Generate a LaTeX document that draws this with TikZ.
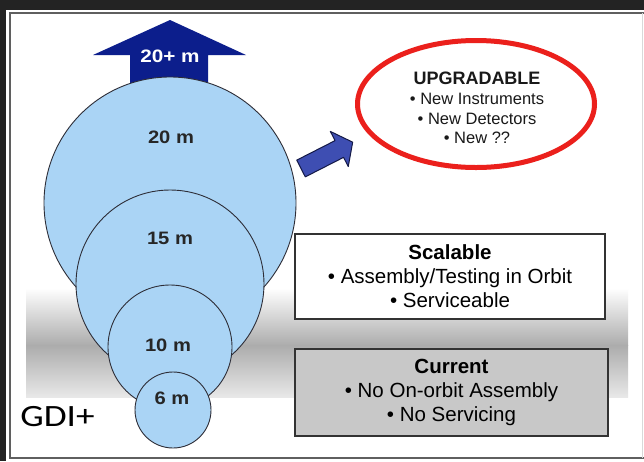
\documentclass[tikz,border=0pt]{standalone}
\usepackage{fontspec}
\setmainfont{Liberation Sans}
\newfontfamily\gdifont{Carlito}
\usepackage{graphicx}
\usetikzlibrary{shapes.geometric}

\definecolor{frameDark}{RGB}{35,35,35}
\definecolor{frameLine}{RGB}{95,95,95}
\definecolor{navy}{RGB}{12,30,140}
\definecolor{skyfill}{RGB}{170,212,245}
\definecolor{rimline}{RGB}{45,45,55}
\definecolor{ringred}{RGB}{235,32,28}
\definecolor{arrowblue}{RGB}{62,78,178}
\definecolor{arrowedge}{RGB}{20,25,70}
\definecolor{boxgray}{RGB}{200,200,200}
\definecolor{bandgray}{RGB}{172,172,172}
\definecolor{bandlow}{RGB}{232,232,232}

% horizontally widened text
\newcommand{\widen}[2][1.15]{\scalebox{#1}[1]{#2}}

\begin{document}
\begin{tikzpicture}[x=1pt,y=-1pt,
  disc/.style={circle, draw=rimline, line width=0.9pt, fill=skyfill,
    inner sep=0pt, minimum size=#1},
  disclabel/.style={font=\fontsize{18}{20}\selectfont\bfseries,
    text=black!85, inner sep=0pt},
  infobox/.style={draw=black!80, line width=1.3pt, align=center,
    inner sep=0pt, font=\fontsize{20.5}{24}\selectfont},
  bodytext/.style={align=center, inner sep=0pt, text=black!90},
]
% page and frame
\useasboundingbox (0,0) rectangle (644,461);
\fill[frameDark] (0,0) rectangle (644,461);
\fill[white] (6,10) rectangle (644,461);
\draw[frameLine, line width=2pt] (644,13) -- (9.5,13) -- (9.5,457.5) -- (644,457.5);
\draw[black!15, line width=1pt] (642,13) -- (642,457.5);

% grey band behind the lower stages: fades in, then lightens towards its foot
\shade[top color=white, bottom color=bandgray] (26,288) rectangle (628,345.5);
\shade[top color=bandgray, bottom color=bandlow] (26,345) rectangle (628,397);

% growth arrow on top of the largest stage
\fill[navy] (170,20) -- (246,55) -- (208,55) -- (208,110) -- (130,110)
  -- (130,55) -- (93,55) -- cycle;
\node[inner sep=0pt, text=white, font=\fontsize{18}{20}\selectfont\bfseries]
  (plus) at (170,56) {\widen{20+ m}};

% nested aperture stages
\node[disc=252] (d20) at (170,203) {};
\node[disc=188] (d15) at (170,284) {};
\node[disc=124] (d10) at (170,347) {};
\node[disc=76]  (d6)  at (173,410) {};
\node[disclabel] (l20) at (171,137) {\widen[1.12]{20 m}};
\node[disclabel] (l15) at (170,238) {\widen[1.12]{15 m}};
\node[disclabel] (l10) at (168,345) {\widen[1.12]{10 m}};
\node[disclabel] (l6)  at (172,398) {\widen[1.12]{6 m}};

% pointer towards the upgrade goal
\begin{scope}[shift={(301,168.5)}, rotate=27]
  \filldraw[fill=arrowblue, draw=arrowedge, line width=1pt, line join=round]
    (0,-9.4) -- (43,-9.4) -- (43,-19.7) -- (58,0) -- (43,19.7)
    -- (43,9.4) -- (0,9.4) -- cycle;
\end{scope}

% upgrade goal
\node[ellipse, draw=ringred, line width=5pt, fill=white,
  minimum width=237, minimum height=127, inner sep=0pt] (upg) at (476,104) {};
\node[bodytext, font=\fontsize{16.5}{19.7}\selectfont] (upgtext) at (477,108)
  {{\fontsize{18}{20}\selectfont\bfseries UPGRADABLE}\\
   • New Instruments\\
   • New Detectors\\
   • New ??};

% stage descriptions
\node[infobox, fill=white, minimum width=310, minimum height=85]
  (scal) at (450,276.5)
  {\textbf{Scalable}\\ • Assembly/Testing in Orbit\\ • Serviceable};
\node[infobox, fill=boxgray, minimum width=313, minimum height=87]
  (curr) at (451.5,392.5)
  {\textbf{Current}\\ • No On-orbit Assembly\\ • No Servicing};

% caption
\node[inner sep=0pt, font=\gdifont\fontsize{31}{34}\selectfont] (gdi) at (57.5,417)
  {\widen[1.2]{GDI+}};
\end{tikzpicture}
\end{document}
